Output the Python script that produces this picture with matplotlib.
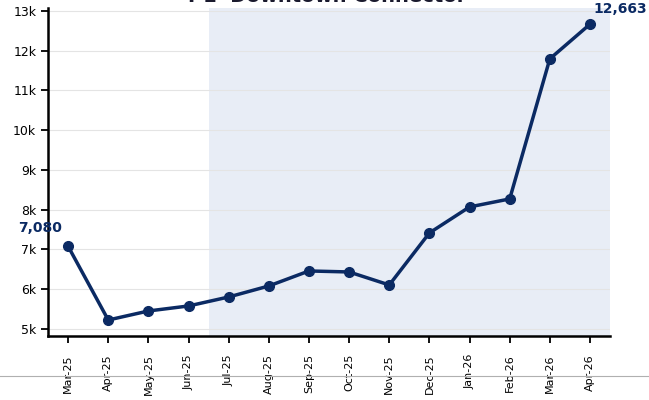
import matplotlib.pyplot as plt
from matplotlib.lines import Line2D

months = ["Mar-25", "Apr-25", "May-25", "Jun-25", "Jul-25", "Aug-25", "Sep-25",
          "Oct-25", "Nov-25", "Dec-25", "Jan-26", "Feb-26", "Mar-26", "Apr-26"]
volumes = [7080, 5226, 5453, 5579, 5805, 6082, 6459,
           6434, 6107, 7415, 8069, 8270, 11792, 12663]
yticks = [5000, 6000, 7000, 8000, 9000, 10000, 11000, 12000, 13000]
ytick_labels = ["5k", "6k", "7k", "8k", "9k", "10k", "11k", "12k", "13k"]
shade_start = 3.5

navy = "#0b2a63"

fig = plt.figure(figsize=(6.49, 4.0), dpi=100)
ax = fig.add_axes([0.074, 0.16, 0.866, 0.82])

x = list(range(len(months)))
ax.axvspan(shade_start, len(months) - 0.5, color="#e8edf6", zorder=0, lw=0)
ax.plot(x, volumes, color=navy, lw=2.5, marker="o", ms=7, zorder=3)

# first / last value labels
ax.annotate("{:,}".format(volumes[0]), (x[0], volumes[0]), xytext=(-20, 8),
            textcoords="offset points", ha="center", va="bottom",
            fontsize=10, fontweight="bold", color=navy, annotation_clip=False)
ax.annotate("{:,}".format(volumes[-1]), (x[-1], volumes[-1]), xytext=(22, 6),
            textcoords="offset points", ha="center", va="bottom",
            fontsize=10, fontweight="bold", color=navy, annotation_clip=False)

ax.set_xlim(-0.5, len(months) - 0.5)
ax.set_ylim(4824, 13070)
ax.set_xticks(x)
ax.set_xticklabels(months, rotation=90, fontsize=8)
ax.set_yticks(yticks)
ax.set_yticklabels(ytick_labels, fontsize=9)
ax.grid(axis="y", color="#e4e4e4", lw=0.8, zorder=1)
ax.set_axisbelow(True)

for s in ["top", "right"]:
    ax.spines[s].set_visible(False)
for s in ["left", "bottom"]:
    ax.spines[s].set_linewidth(1.8)
    ax.spines[s].set_color("black")
ax.tick_params(axis="both", length=5, width=1.3, color="black")
ax.tick_params(axis="x", pad=8)

fig.text(0.504, 0.996, "I-1  Downtown Connector", ha="center", va="baseline",
         fontsize=14, fontweight="bold", color="#1a1a2e")

# divider line across the figure
fig.add_artist(Line2D([0, 1], [0.06, 0.06], color="#b0b0b0", lw=0.8,
                      transform=fig.transFigure))

fig.savefig("out.png", dpi=100)
